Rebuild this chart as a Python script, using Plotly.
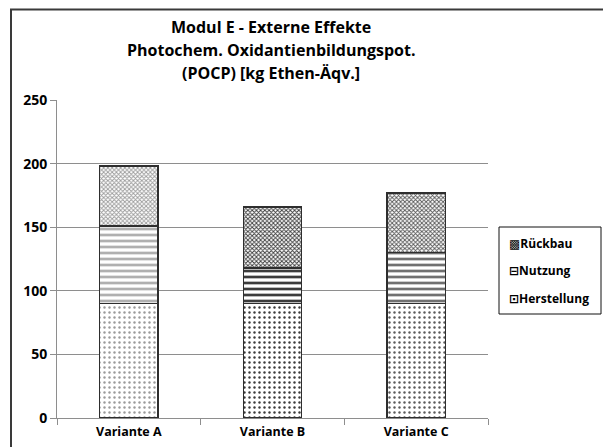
import plotly.graph_objects as go

categories = ["Variante A", "Variante B", "Variante C"]
herstellung = [90, 90, 90]
nutzung = [61, 28, 40]
rueckbau = [47, 48, 47]

series_names = ["Herstellung", "Nutzung", "Rückbau"]
title_lines = ["Modul E - Externe Effekte",
               "Photochem. Oxidantienbildungspot.",
               "(POCP) [kg Ethen-Äqv.]"]
legend_symbols = ["⊡", "⊟", "▩"]

W, H = 603, 447
L, R, T, B = 57, 115, 100, 29
pw, ph = W - L - R, H - T - B

def px_x(px):
    return (px - L) / pw

def px_y(py):
    return (H - B - py) / ph

FONT = "'Open Sans', 'DejaVu Sans', sans-serif"

fig = go.Figure()

fig.add_bar(x=categories, y=herstellung, name=series_names[0], showlegend=False,
            marker=dict(color="white", line=dict(color="#2e2e2e", width=1.5),
                        pattern=dict(shape=".", size=5, solidity=0.18,
                                     fgcolor=["#9a9a9a", "#3a3a3a", "#5a5a5a"],
                                     bgcolor="white", fillmode="replace")))
fig.add_bar(x=categories, y=nutzung, name=series_names[1], showlegend=False,
            marker=dict(color="white", line=dict(color="#2e2e2e", width=1.5),
                        pattern=dict(shape="-", size=6, solidity=0.45,
                                     fgcolor=["#b0b0b0", "#3c3c3c", "#707070"],
                                     bgcolor="white", fillmode="replace")))
fig.add_bar(x=categories, y=rueckbau, name=series_names[2], showlegend=False,
            marker=dict(color="white", line=dict(color="#2e2e2e", width=1.5),
                        pattern=dict(shape="x", size=3, solidity=0.5,
                                     fgcolor=["#9a9a9a", "#3a3a3a", "#555555"],
                                     bgcolor="white", fillmode="replace")))

annotations = []
for i, (txt, py) in enumerate(zip(title_lines, [27, 50, 73])):
    annotations.append(dict(text=f"<b>{txt}</b>", x=0.497, y=px_y(py), xref="paper", yref="paper",
                            xanchor="center", yanchor="middle", showarrow=False,
                            font=dict(family=FONT, size=16, color="#000000")))

for name, sym, py in zip(series_names[::-1], legend_symbols[::-1], [243, 270.5, 298]):
    annotations.append(dict(text=f"<b>{sym}{name}</b>", x=px_x(507), y=px_y(py),
                            xref="paper", yref="paper", xanchor="left", yanchor="middle",
                            showarrow=False, font=dict(family=FONT, size=12, color="#000000")))

shapes = [
    dict(type="rect", xref="paper", yref="paper", x0=px_x(11), x1=px_x(700),
         y0=px_y(600), y1=px_y(9.5), line=dict(color="#3a3a3a", width=2), layer="below"),
    dict(type="rect", xref="paper", yref="paper", x0=px_x(499), x1=px_x(601),
         y0=px_y(314), y1=px_y(227), line=dict(color="#111111", width=1), fillcolor="white"),
]

fig.update_layout(
    barmode="stack", bargap=0.595,
    width=W, height=H, margin=dict(l=L, r=R, t=T, b=B),
    paper_bgcolor="white", plot_bgcolor="white",
    font=dict(family=FONT, size=12, color="#000000"),
    annotations=annotations, shapes=shapes, showlegend=False,
)
fig.update_yaxes(range=[0, 250], dtick=50, showgrid=True, gridcolor="#8e8e8e", gridwidth=1,
                 showline=True, linecolor="#8e8e8e", linewidth=1, ticks="outside", ticklen=6,
                 tickcolor="#8e8e8e", tickfont=dict(family=FONT, size=14, weight="bold"),
                 zeroline=False, automargin=False)
fig.update_xaxes(showline=True, linecolor="#8e8e8e", linewidth=1, ticks="outside", ticklen=6,
                 tickcolor="#8e8e8e", tickson="boundaries",
                 tickfont=dict(family=FONT, size=12.5, weight="bold"), ticklabelstandoff=2,
                 automargin=False)

fig.write_html("out.html")
